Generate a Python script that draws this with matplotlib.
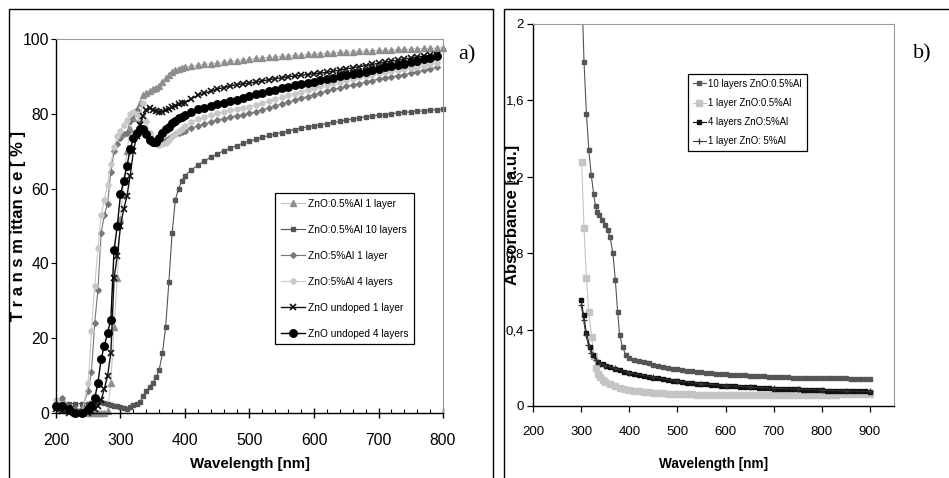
import numpy as np
import matplotlib
matplotlib.use('Agg')
import matplotlib.pyplot as plt
from matplotlib.lines import Line2D
from matplotlib.ticker import FixedLocator, FuncFormatter, MultipleLocator

SANS = ['Liberation Sans', 'DejaVu Sans']
SERIF = ['Liberation Serif', 'DejaVu Serif']
plt.rcParams['font.family'] = SANS

# ---------------- panel a) transmittance ----------------
wl_a = list(range(200, 250, 10)) + list(range(250, 401, 5)) + list(range(410, 801, 10))

t_al05_1 = [3, 1, 0.5, 0, 0,
            0, 0, 0, 0, 0, 0, 0.5, 8, 23, 36, 52, 62, 70, 76, 79, 81, 83, 85, 85.5, 86, 86.5, 87, 87.5,
            88.5, 89.5, 90.5, 91.3, 91.8, 92, 92.3, 92.5,
            92.8, 93, 93.2, 93.4, 93.6, 93.8, 94, 94.2, 94.4, 94.6, 94.8, 95, 95.1, 95.2, 95.4, 95.5,
            95.6, 95.7, 95.9, 96, 96.1, 96.2, 96.3, 96.4, 96.5, 96.6, 96.7, 96.8, 96.9, 97, 97, 97.1,
            97.2, 97.2, 97.3, 97.4, 97.5, 97.5, 97.6, 97.7]
t_al05_10 = [2.5, 2.5, 2.5, 2.5, 2.5,
             2.5, 2.7, 3, 3, 3, 2.8, 2.5, 2.2, 2, 1.8, 1.6, 1.3, 1.2, 1.6, 2.2, 2.5, 3, 4.5, 6, 7, 8,
             9.5, 11.5, 16, 23, 35, 48, 57, 60, 62, 63.5,
             65, 66.3, 67.4, 68.4, 69.3, 70.1, 70.8, 71.5, 72.1, 72.7, 73.2, 73.7, 74.2, 74.6, 75,
             75.4, 75.8, 76.2, 76.5, 76.8, 77.1, 77.4, 77.7, 78, 78.3, 78.6, 78.9, 79.2, 79.4, 79.6,
             79.8, 80, 80.2, 80.4, 80.5, 80.7, 80.8, 81, 81.1, 81.2]
t_al5_1 = [2, 4, 1.5, 1, 1,
           6, 11, 24, 33, 48, 53, 56, 64.5, 70, 72, 73.5, 74.5, 75, 78, 80, 81, 78, 76, 75, 74, 73,
           72.5, 72.5, 72.5, 73, 73.5, 74, 74.5, 74.8, 75.1, 75.5,
           76.2, 76.8, 77.3, 77.8, 78.3, 78.7, 79.1, 79.5, 79.8, 80.1, 80.6, 81.1, 81.6, 82.1, 82.6,
           83.1, 83.6, 84.1, 84.6, 85.1, 85.6, 86.1, 86.5, 86.9, 87.3, 87.7, 88.1, 88.5, 88.9, 89.3,
           89.6, 89.9, 90.2, 90.5, 90.8, 91.2, 91.6, 92, 92.4, None]
t_al5_4 = [3.5, 2, 0.5, 0, 0,
           8, 22, 34, 44, 53, 57, 61, 66.5, 71, 74, 75.5, 77, 78.3, 80, 80.5, 80, 79, 83, 78, 75, 73,
           72, 71.7, 71.8, 72.2, 73, 74, 74.7, 75.3, 76, 76.7,
           77.8, 78.6, 79.1, 79.6, 80.1, 80.5, 80.9, 81.3, 81.6, 81.9, 82.4, 82.9, 83.4, 83.9, 84.4,
           84.9, 85.4, 85.9, 86.4, 86.9, 87.4, 87.8, 88.2, 88.6, 89, 89.4, 89.8, 90.2, 90.5, 90.8,
           91.1, 91.4, 91.7, 92, 92.3, 92.6, 92.9, 93.2, 93.5, None]
t_und_1 = [1, 0.5, 0, 0, 0,
           0, 0.5, 1, 2, 3.5, 6.5, 10, 16, 36, 42, 50, 54.5, 58, 63.5, 70, 74, 77, 79.5, 81, 81.5, 81,
           80.7, 80.5, 80.6, 81, 81.4, 81.8, 82.2, 82.5, 82.8, 83,
           84, 85, 85.5, 86, 86.6, 87, 87.4, 87.8, 88, 88.2, 88.5, 88.8, 89.1, 89.4, 89.6, 89.9, 90.1,
           90.3, 90.5, 90.7, 90.9, 91.1, 91.4, 91.7, 92, 92.3, 92.6, 92.9, 93.2, 93.5, 93.8, 94.1,
           94.3, 94.6, 94.9, 95.2, 95.4, 95.6, 95.8, None]
t_und_4 = [2, 2, 1, 0, 0,
           1, 2, 4, 8, 14.5, 18, 21.5, 25, 43.5, 50, 58.5, 62, 66, 70.5, 73.5, 75, 76, 76, 74.5, 73,
           72.5, 72.5, 73.5, 75, 76, 76.5, 77.5, 78.2, 78.8, 79.2, 79.6,
           80.4, 81.2, 81.6, 82, 82.6, 83, 83.4, 83.8, 84.3, 84.8, 85.2, 85.6, 86, 86.4, 86.8, 87.2,
           87.6, 87.9, 88.3, 88.6, 89, 89.3, 89.7, 90, 90.3, 90.7, 91, 91.3, 91.7, 92, 92.4, 92.7,
           93.1, 93.4, 93.8, 94.2, 94.6, 95, 95.4, None]

labels_a = ['ZnO:0.5%Al 1 layer', 'ZnO:0.5%Al 10 layers', 'ZnO:5%Al 1 layer',
            'ZnO:5%Al 4 layers', 'ZnO undoped 1 layer', 'ZnO undoped 4 layers']

# ---------------- panel b) absorbance ----------------
tail_b = list(range(410, 901, 10))
wl_b1 = [303, 306, 311, 316, 321, 326, 330, 334, 338, 344, 349, 355, 360, 366, 371, 376, 380, 386, 393, 400] + tail_b
a_10l_05 = [2.05, 1.8, 1.53, 1.34, 1.21, 1.11, 1.045, 1.015, 1.0, 0.975, 0.95, 0.92, 0.885, 0.8, 0.66,
            0.49, 0.37, 0.31, 0.265, 0.25,
            0.243, 0.236, 0.229, 0.223, 0.217, 0.211, 0.205, 0.2, 0.196, 0.192, 0.188, 0.185, 0.182,
            0.179, 0.176, 0.174, 0.172, 0.17, 0.168, 0.166, 0.164, 0.162, 0.161, 0.16, 0.158, 0.157,
            0.156, 0.155, 0.154, 0.153, 0.152, 0.151, 0.15, 0.149, 0.148, 0.148, 0.147, 0.147, 0.146,
            0.146, 0.145, 0.145, 0.145, 0.144, 0.144, 0.143, 0.142, 0.141, 0.14, 0.139]
wl_b2 = [301, 306, 311, 316, 322, 327, 331, 336, 340, 345, 350, 360, 370, 380, 390, 400] + tail_b
a_1l_05 = [1.28, 0.93, 0.67, 0.49, 0.36, 0.26, 0.2, 0.165, 0.15, 0.138, 0.128, 0.115, 0.104, 0.095,
           0.088, 0.083,
           0.079, 0.076, 0.073, 0.071, 0.069, 0.067, 0.066, 0.065, 0.064, 0.063, 0.062, 0.061, 0.061,
           0.06, 0.06, 0.059, 0.059, 0.059, 0.058, 0.058, 0.058, 0.058, 0.058, 0.058, 0.058, 0.058,
           0.058, 0.058, 0.058, 0.058, 0.058, 0.058, 0.058, 0.058, 0.058, 0.058, 0.058, 0.058, 0.058,
           0.058, 0.059, 0.06, 0.06, 0.061, 0.061, 0.062, 0.062, 0.063, 0.063, 0.063]
wl_b3 = [300, 305, 311, 318, 325, 335, 345, 352, 360, 370, 380, 390, 400] + tail_b
a_4l_5 = [0.555, 0.477, 0.38, 0.31, 0.267, 0.232, 0.218, 0.21, 0.203, 0.195, 0.188, 0.18, 0.173,
          0.167, 0.162, 0.157, 0.153, 0.149, 0.145, 0.139, 0.135, 0.132, 0.129, 0.126, 0.123, 0.12,
          0.117, 0.115, 0.113, 0.111, 0.109, 0.107, 0.106, 0.105, 0.103, 0.101, 0.1, 0.098, 0.097,
          0.095, 0.094, 0.092, 0.091, 0.09, 0.089, 0.088, 0.087, 0.087, 0.086, 0.085, 0.084, 0.083,
          0.082, 0.081, 0.08, 0.08, 0.079, 0.078, 0.078, 0.077, 0.076, 0.076, 0.075]
wl_b4 = [300, 305, 310, 315, 320, 330, 340, 350, 370, 400, 450, 500, 550, 600, 650, 700, 750, 800, 850, 900]
a_1l_5 = [0.53, 0.45, 0.37, 0.32, 0.28, 0.24, 0.222, 0.212, 0.197, 0.174, 0.15, 0.13, 0.116, 0.107,
          0.099, 0.092, 0.088, 0.083, 0.079, 0.076]

labels_b = ['10 layers ZnO:0.5%Al', '1 layer ZnO:0.5%Al', '4 layers ZnO:5%Al', '1 layer ZnO: 5%Al']

# ---------------- figure ----------------
W, H = 949, 478
fig = plt.figure(figsize=(W / 100, H / 100), dpi=100)


def rect(l, t, r, b):
    return [l / W, 1 - b / H, (r - l) / W, (b - t) / H]


def fx(px):
    return px / W


def fy(py):
    return 1 - py / H


# outer frames
fig.add_artist(Line2D([fx(9), fx(9), fx(492.5), fx(492.5)], [fy(482), fy(9), fy(9), fy(482)],
                      color='black', lw=1.0, transform=fig.transFigure))
fig.add_artist(Line2D([fx(504.5), fx(504.5), fx(952)], [fy(482), fy(8.5), fy(8.5)],
                      color='black', lw=1.0, transform=fig.transFigure))

axA = fig.add_axes(rect(56, 39, 443, 413))
axB = fig.add_axes(rect(533, 24, 894, 406))

arr = lambda v: np.array([np.nan if x is None else x for x in v], dtype=float)

styles_a = [
    dict(color='#c4c4c4', marker='^', mfc='#8e8e8e', mec='#8e8e8e', ms=3.8, lw=0.8),
    dict(color='#555555', marker='s', mfc='#555555', mec='#555555', ms=3.3, lw=0.8),
    dict(color='#777777', marker='D', mfc='#777777', mec='#777777', ms=2.9, lw=0.8),
    dict(color='#c8c8c8', marker='o', mfc='#c8c8c8', mec='#c8c8c8', ms=3.6, lw=0.8),
    dict(color='#111111', marker='x', mfc='#111111', mec='#111111', ms=4.8, mew=1.2, lw=1.0),
    dict(color='#000000', marker='o', mfc='#000000', mec='#000000', ms=5.4, lw=1.0),
]
series_a = [t_al05_1, t_al05_10, t_al5_1, t_al5_4, t_und_1, t_und_4]
for s, lab, st in zip(series_a, labels_a, styles_a):
    axA.plot(wl_a, arr(s), label=lab, clip_on=False, **st)

axA.set_xlim(200, 800)
axA.set_ylim(0, 100)
axA.xaxis.set_major_locator(MultipleLocator(100))
axA.xaxis.set_minor_locator(MultipleLocator(20))
axA.yaxis.set_major_locator(MultipleLocator(20))
axA.tick_params(axis='x', which='major', direction='inout', length=7, width=1.0, labelsize=11.3, pad=11)
axA.tick_params(axis='x', which='minor', direction='in', length=3, width=0.8)
axA.tick_params(axis='y', which='major', direction='out', length=3.5, width=0.8, labelsize=11.3, pad=1.5)
for sp in ['top', 'right']:
    axA.spines[sp].set_color('#9a9a9a')
    axA.spines[sp].set_linewidth(0.8)
for sp in ['left', 'bottom']:
    axA.spines[sp].set_color('black')
    axA.spines[sp].set_linewidth(1.0)
axA.set_xlabel('Wavelength [nm]', fontsize=10.8, fontweight='bold')
axA.xaxis.set_label_coords(0.5, -0.118)
axA.set_ylabel('T r a n s m ittan c e [ % ]', fontsize=12, fontweight='bold')
axA.yaxis.set_label_coords(-0.078, 0.5)
legA = axA.legend(loc='upper left', bbox_to_anchor=(0.566, 0.588), fontsize=7.3, frameon=True,
                  fancybox=False, edgecolor='black', framealpha=1, labelspacing=1.58,
                  handlelength=2.4, handletextpad=0.3, borderpad=0.55, borderaxespad=0)
legA.get_frame().set_linewidth(0.9)

styles_b = [
    dict(color='#555555', marker='s', mfc='#555555', mec='#555555', ms=3.3, lw=0.8),
    dict(color='#c4c4c4', marker='s', mfc='#c4c4c4', mec='#c4c4c4', ms=4.3, lw=0.8),
    dict(color='#111111', marker='s', mfc='#111111', mec='#111111', ms=3.4, lw=0.8),
    dict(color='#333333', marker='+', mfc='#333333', mec='#333333', ms=4, mew=0.9, lw=0.7),
]
series_b = [(wl_b1, a_10l_05), (wl_b2, a_1l_05), (wl_b3, a_4l_5), (wl_b4, a_1l_5)]
for (x, y), lab, st in zip(series_b, labels_b, styles_b):
    axB.plot(x, arr(y), label=lab, **st)

axB.set_xlim(200, 950)
axB.set_ylim(0, 2)
axB.xaxis.set_major_locator(FixedLocator([200, 300, 400, 500, 600, 700, 800, 900]))
axB.yaxis.set_major_locator(FixedLocator([0, 0.4, 0.8, 1.2, 1.6, 2.0]))
axB.yaxis.set_major_formatter(FuncFormatter(lambda v, p: ('%g' % round(v, 2)).replace('.', ',')))
axB.tick_params(axis='both', which='major', direction='out', length=4, width=0.9, labelsize=9.5)
axB.tick_params(axis='x', pad=10.5)
axB.tick_params(axis='y', pad=2.5)
for sp in ['top', 'right']:
    axB.spines[sp].set_color('#9a9a9a')
    axB.spines[sp].set_linewidth(0.8)
for sp in ['left', 'bottom']:
    axB.spines[sp].set_color('black')
    axB.spines[sp].set_linewidth(1.0)
axB.set_xlabel('Wavelength [nm]', fontsize=9.8, fontweight='bold')
axB.xaxis.set_label_coords(0.5, -0.133)
axB.set_ylabel('Absorbance [a.u.]', fontsize=12, fontweight='bold')
axB.yaxis.set_label_coords(-0.036, 0.5)
legB = axB.legend(loc='upper left', bbox_to_anchor=(0.429, 0.869), fontsize=6.9, frameon=True,
                  fancybox=False, edgecolor='black', framealpha=1, labelspacing=0.95,
                  handlelength=1.35, handletextpad=0.3, borderpad=0.5, borderaxespad=0)
legB.get_frame().set_linewidth(0.9)

fig.text(fx(467), fy(55), 'a)', family=SERIF, fontsize=16, ha='center', va='center')
fig.text(fx(922), fy(54), 'b)', family=SERIF, fontsize=16, ha='center', va='center')

fig.savefig('out.png', dpi=100)
